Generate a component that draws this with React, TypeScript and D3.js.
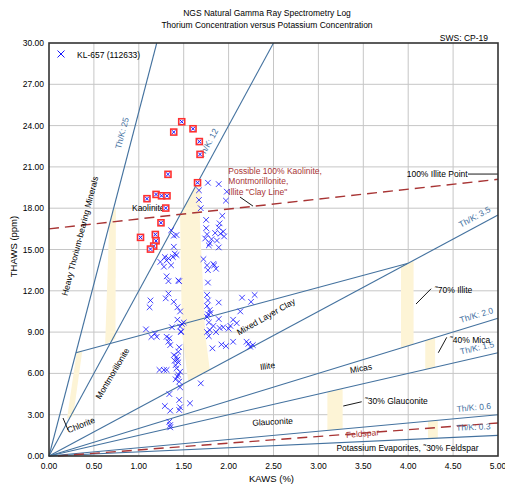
import { useRef, useEffect } from "react";
import * as d3 from "d3";

const WIDTH = 505;
const HEIGHT = 487;
const FONT = "'Liberation Sans', Arial, sans-serif";

// axis ticks
const kTicks = [0, 0.5, 1, 1.5, 2, 2.5, 3, 3.5, 4, 4.5, 5];
const thTicks = [0, 3, 6, 9, 12, 15, 18, 21, 24, 27, 30];

// Th/K ratio lines from the origin
const ratios = [25, 12, 3.5, 2.0, 1.5, 0.6, 0.3];
const ratioNames = ["Th/K: 25", "Th/K: 12", "Th/K: 3.5", "Th/K: 2.0", "Th/K: 1.5", "Th/K: 0.6", "Th/K: 0.3"];
const ratioLabelK = [0.93, 1.865, 4.79, 4.79, 4.79, 4.74, 4.73];

// other boundaries [K, Th]
const mixedLayerLine: [number, number][] = [[0.3, 7.5], [4.0, 14.0]];
const clayLine: [number, number][] = [[0, 16.5], [5, 20.1]];
const feldsparLine: [number, number][] = [[0.1, 0], [5, 2.4]];

// uncertainty bands [K, Th]
const chloriteBand: [number, number][] = [[0.2, 2.7], [0.31, 7.6], [0.37, 7.6], [0.27, 2.9]];
const montBand: [number, number][] = [[0.625, 8.1], [0.67, 16.75], [0.72, 18.0], [0.745, 17.9], [0.74, 8.5]];
const clayBand: [number, number][] = [[1.55, 5.43], [1.48, 9.0], [1.46, 17.5], [1.66, 19.9], [1.69, 19.8], [1.68, 17.1], [1.74, 8.8], [1.79, 6.3]];
const illiteBand: [number, number][] = [[3.92, 7.84], [3.92, 13.86], [4.0, 14.0], [4.06, 14.21], [4.06, 8.12]];
const micaBand: [number, number][] = [[4.19, 6.29], [4.19, 8.38], [4.3, 8.6], [4.3, 6.45]];
const glauconiteBand: [number, number][] = [[3.1, 1.86], [3.1, 4.65], [3.27, 4.9], [3.27, 1.96]];
const feldsparBand: [number, number][] = [[4.22, 1.27], [4.22, 2.53], [4.33, 2.6], [4.33, 1.3]];
const bands = [chloriteBand, montBand, clayBand, illiteBand, micaBand, glauconiteBand, feldsparBand];

// KL-657 samples [KAWS %, THAWS ppm]
const samples: [number, number][] = [
  // upper right of Th/K 12
  [1.77, 19.85], [1.89, 19.75], [1.98, 19.2], [1.97, 18.55], [1.67, 19.3], [1.67, 18.6], [1.69, 18.0],
  [1.93, 17.45], [1.75, 17.15], [1.9, 16.9], [1.75, 16.55], [1.89, 16.6], [1.76, 16.1], [1.85, 16.2],
  [1.91, 16.15], [1.94, 16.3], [1.74, 15.8], [1.81, 15.75], [1.87, 15.65], [1.89, 15.15], [1.79, 15.45],
  [1.95, 15.95], [1.72, 14.3], [1.76, 13.85], [1.84, 13.85], [1.86, 13.6], [1.83, 13.95], [1.77, 13.5],
  [1.77, 12.6], [1.78, 15.3],
  // left column
  [1.36, 16.4], [1.39, 16.0], [1.42, 16.05], [1.39, 15.2], [1.42, 14.6], [1.4, 14.7], [1.24, 14.1],
  [1.33, 14.35], [1.29, 14.45], [1.31, 14.2], [1.38, 14.45], [1.36, 13.85], [1.28, 13.75], [1.31, 13.05],
  [1.33, 12.7], [1.45, 12.7], [1.44, 12.75], [1.33, 11.8], [1.3, 11.45], [1.39, 11.2], [1.13, 11.3],
  [1.12, 10.8], [1.43, 10.8], [1.46, 10.5], [1.43, 9.9], [1.46, 9.4], [1.37, 9.35], [1.08, 9.2],
  [1.48, 9.6], [1.47, 9.05], [1.5, 9.7],
  // right middle
  [1.76, 11.7], [1.89, 11.15], [2.15, 11.5], [2.25, 11.2], [2.29, 11.7], [1.76, 10.9], [1.79, 10.6],
  [1.76, 10.1], [1.89, 9.95], [2.05, 9.9], [2.09, 9.65], [2.13, 10.5], [1.83, 9.45], [1.94, 9.35],
  [2.0, 9.25], [1.79, 9.15], [1.78, 9.7], [1.8, 10.4], [1.77, 11.3], [1.77, 10.3], [1.78, 8.7],
  [1.76, 9.0], [1.82, 7.82], [1.92, 8.1], [1.97, 7.99], [2.05, 8.3], [2.2, 8.3], [2.24, 7.94],
  [2.27, 8.06], [2.22, 8.15], [1.86, 9.0], [1.9, 9.3], [2.02, 9.45],
  // lower column
  [1.18, 8.9], [1.2, 8.66], [1.31, 8.66], [1.33, 8.3], [1.35, 8.06], [1.34, 8.55], [1.47, 9.0],
  [1.44, 7.57], [1.39, 7.33], [1.4, 6.92], [1.42, 7.2], [1.45, 7.9], [1.43, 7.0], [1.41, 6.6],
  [1.44, 6.8], [1.23, 6.25], [1.28, 6.25], [1.31, 6.25], [1.42, 6.37], [1.46, 6.12], [1.43, 5.76],
  [1.41, 5.57], [1.45, 5.4], [1.44, 5.9], [1.46, 4.99], [1.34, 4.5], [1.45, 4.07], [1.57, 3.83],
  [1.29, 3.63], [1.35, 3.29], [1.46, 3.54], [1.45, 3.34], [1.34, 2.49], [1.35, 2.25], [1.35, 2.08],
  [1.69, 5.28], [1.14, 8.65],
];

// samples highlighted with a red box
const flagged: [number, number][] = [
  [1.478, 24.28], [1.389, 23.53], [1.604, 23.77], [1.674, 22.84], [1.682, 21.91], [1.325, 20.46],
  [1.654, 19.85], [1.192, 19.0], [1.253, 18.9], [1.314, 18.9], [1.091, 18.69], [1.3, 18.01],
  [1.247, 16.94], [1.019, 15.88], [1.184, 16.09], [1.192, 15.63], [1.166, 15.25], [1.13, 15.03],
];

// annotations: text, K, Th (centre), angle
const zoneLabels: [string, number, number, number, string][] = [
  ["Heavy Thorium-bearing Minerals", 0.345, 15.98, -75.4, "middle"],
  ["Kaolinite", 0.924, 18.03, 0, "start"],
  ["Montmorillonite", 0.707, 6.0, -59.3, "middle"],
  ["Chlorite", 0.356, 2.25, -21.8, "middle"],
  ["Mixed Layer Clay", 2.416, 10.12, -29.7, "middle"],
  ["Illite", 2.433, 6.54, -8, "middle"],
  ["Micas", 3.474, 6.37, -10, "middle"],
  ["\u02DC30% Glauconite", 3.519, 3.99, 0, "start"],
  ["Glauconite", 2.489, 2.49, -3, "middle"],
  ["Potassium Evaporites, \u02DC30% Feldspar", 3.992, 0.545, 0, "middle"],
  ["\u02DC70% Illite", 4.298, 12.06, 0, "start"],
  ["\u02DC40% Mica", 4.465, 8.39, 0, "start"],
  ["100% Illite Point", 3.983, 20.48, 0, "start"],
];
const clayNote = ["Possible 100% Kaolinite,", "Montmorillonite,", "Illite \"Clay Line\""];

// leader lines [K1, Th1, K2, Th2]
const leaders: [number, number, number, number][] = [
  [2.127, 18.81, 2.272, 18.15],
  [0.156, 2.76, 0.212, 1.89],
  [4.087, 11.04, 4.255, 12.15],
  [4.335, 7.5, 4.429, 8.62],
  [3.277, 3.63, 3.482, 3.94],
  [4.666, 20.48, 5.0, 20.48],
];

export default function App() {
  const svgRef = useRef<SVGSVGElement>(null);

  useEffect(() => {
    if (!svgRef.current) return;
    const svg = d3.select(svgRef.current);
    svg.selectAll("*").remove();

    const margin = { top: 43, right: 7, bottom: 31, left: 49 };
    const x = d3.scaleLinear().domain([0, 5]).range([margin.left, WIDTH - margin.right]);
    const y = d3.scaleLinear().domain([0, 30]).range([HEIGHT - margin.bottom, margin.top]);

    svg.append("rect").attr("width", WIDTH).attr("height", HEIGHT).attr("fill", "#fff");

    // titles
    const title = svg.append("g").attr("font-family", FONT).attr("font-size", 8.5).attr("fill", "#000");
    title.append("text").attr("x", 267).attr("y", 16).attr("text-anchor", "middle").text("NGS Natural Gamma Ray Spectrometry Log");
    title.append("text").attr("x", 267).attr("y", 28).attr("text-anchor", "middle").text("Thorium Concentration versus Potassium Concentration");
    title.append("text").attr("x", 488).attr("y", 41).attr("text-anchor", "end").text("SWS: CP-19");

    // grid
    const grid = svg.append("g").attr("stroke", "#c6c6c6").attr("stroke-width", 1);
    grid.selectAll("line.v").data(kTicks.slice(1, -1)).join("line")
      .attr("x1", (d) => x(d)).attr("x2", (d) => x(d)).attr("y1", y(0)).attr("y2", y(30));
    grid.selectAll("line.h").data(thTicks.slice(1, -1)).join("line")
      .attr("x1", x(0)).attr("x2", x(5)).attr("y1", (d) => y(d)).attr("y2", (d) => y(d));

    // bands
    const area = d3.line<[number, number]>().x((d) => x(d[0])).y((d) => y(d[1]));
    svg.append("g").selectAll("path").data(bands).join("path")
      .attr("d", (d) => area(d) + "Z").attr("fill", "#fdf4d6").attr("stroke", "none");

    // ratio lines
    const lineColor = "#44729f";
    svg.append("g").selectAll("line").data(ratios).join("line")
      .attr("x1", x(0)).attr("y1", y(0))
      .attr("x2", (r) => x(Math.min(5, 30 / r)))
      .attr("y2", (r) => y(Math.min(5, 30 / r) * r))
      .attr("stroke", lineColor).attr("stroke-width", 1.1);

    svg.append("path").attr("d", area(mixedLayerLine)).attr("stroke", lineColor).attr("stroke-width", 1.1).attr("fill", "none");

    // dashed red lines
    [clayLine, feldsparLine].forEach((l) => {
      svg.append("path").attr("d", area(l)).attr("fill", "none")
        .attr("stroke", "#a83434").attr("stroke-width", 1.4).attr("stroke-dasharray", "10,6");
    });

    // ratio labels
    const pxPerK = x(1) - x(0);
    const pxPerTh = y(0) - y(1);
    svg.append("g").selectAll("text").data(ratios).join("text")
      .attr("transform", (r, i) => {
        const k = ratioLabelK[i];
        const a = (-Math.atan((r * pxPerTh) / pxPerK) * 180) / Math.PI;
        return `translate(${x(k)},${y(k * r)}) rotate(${a})`;
      })
      .attr("y", (r) => (r > 20 ? -8 : -6.5))
      .attr("text-anchor", "middle")
      .attr("font-family", FONT).attr("font-size", 8.5).attr("fill", "#4470a0")
      .text((_, i) => ratioNames[i]);

    // leader lines
    svg.append("g").selectAll("line").data(leaders).join("line")
      .attr("x1", (d) => x(d[0])).attr("y1", (d) => y(d[1]))
      .attr("x2", (d) => x(d[2])).attr("y2", (d) => y(d[3]))
      .attr("stroke", "#000").attr("stroke-width", 0.9);

    // zone labels
    svg.append("g").selectAll("text").data(zoneLabels).join("text")
      .attr("transform", (d) => `translate(${x(d[1])},${y(d[2])}) rotate(${d[3]})`)
      .attr("dy", "0.35em")
      .attr("text-anchor", (d) => d[4])
      .attr("font-family", FONT).attr("font-size", 8.5).attr("fill", "#000")
      .text((d) => d[0]);

    svg.append("text")
      .attr("transform", `translate(${x(3.491)},${y(1.63)}) rotate(-5)`)
      .attr("dy", "0.35em").attr("text-anchor", "middle")
      .attr("font-family", FONT).attr("font-size", 8.5).attr("fill", "#a83434")
      .text("Feldspar");

    svg.append("g").selectAll("text").data(clayNote).join("text")
      .attr("x", x(1.997)).attr("y", (_, i) => y(20.72) + 3 + i * 10.5)
      .attr("font-family", FONT).attr("font-size", 8.5).attr("fill", "#a83434")
      .text((d) => d);

    // sample crosses
    const cross = (s: number) => `M${-s},${-s}L${s},${s}M${-s},${s}L${s},${-s}`;
    svg.append("g").selectAll("path").data(samples).join("path")
      .attr("transform", (d) => `translate(${x(d[0])},${y(d[1])})`)
      .attr("d", cross(2.8)).attr("stroke", "#1414ff").attr("stroke-width", 1).attr("stroke-opacity", 0.8).attr("fill", "none");

    const fl = svg.append("g").selectAll("g").data(flagged).join("g")
      .attr("transform", (d) => `translate(${x(d[0])},${y(d[1])})`);
    fl.append("rect").attr("x", -3.8).attr("y", -3.8).attr("width", 7.6).attr("height", 7.6).attr("fill", "#ff3030");
    fl.append("rect").attr("x", -2.2).attr("y", -2.2).attr("width", 4.4).attr("height", 4.4).attr("fill", "#fff");
    fl.append("path").attr("d", cross(1.8)).attr("stroke", "#1414ff").attr("stroke-width", 1).attr("fill", "none");

    // legend
    svg.append("path").attr("transform", "translate(61,54)").attr("d", cross(3.5))
      .attr("stroke", "#1414ff").attr("stroke-width", 1).attr("fill", "none");
    svg.append("text").attr("x", 77).attr("y", 57.5)
      .attr("font-family", FONT).attr("font-size", 8.5).text("KL-657 (112633)");

    // frame
    svg.append("rect").attr("x", x(0)).attr("y", y(30))
      .attr("width", x(5) - x(0)).attr("height", y(0) - y(30))
      .attr("fill", "none").attr("stroke", "#333").attr("stroke-width", 1.6);

    // tick labels
    const ticks = svg.append("g").attr("font-family", FONT).attr("font-size", 8.5).attr("fill", "#000");
    ticks.selectAll("text.y").data(thTicks).join("text")
      .attr("x", x(0) - 5).attr("y", (d) => y(d) + 3).attr("text-anchor", "end")
      .text((d) => d.toFixed(2));
    ticks.selectAll("text.x").data(kTicks).join("text")
      .attr("x", (d) => x(d)).attr("y", y(0) + 13).attr("text-anchor", "middle")
      .text((d) => d.toFixed(2));

    // axis titles
    svg.append("text").attr("x", (x(0) + x(5)) / 2 - 2).attr("y", HEIGHT - 5).attr("text-anchor", "middle")
      .attr("font-family", FONT).attr("font-size", 9.5).text("KAWS (%)");
    svg.append("text").attr("transform", `translate(17,${(y(0) + y(30)) / 2 - 3}) rotate(-90)`)
      .attr("text-anchor", "middle").attr("font-family", FONT).attr("font-size", 9.5).text("THAWS (ppm)");
  }, []);

  return (
    <div style={{ position: "absolute", left: 0, top: 0, width: WIDTH, height: HEIGHT }}>
      <svg ref={svgRef} width={WIDTH} height={HEIGHT} style={{ display: "block" }} />
    </div>
  );
}
